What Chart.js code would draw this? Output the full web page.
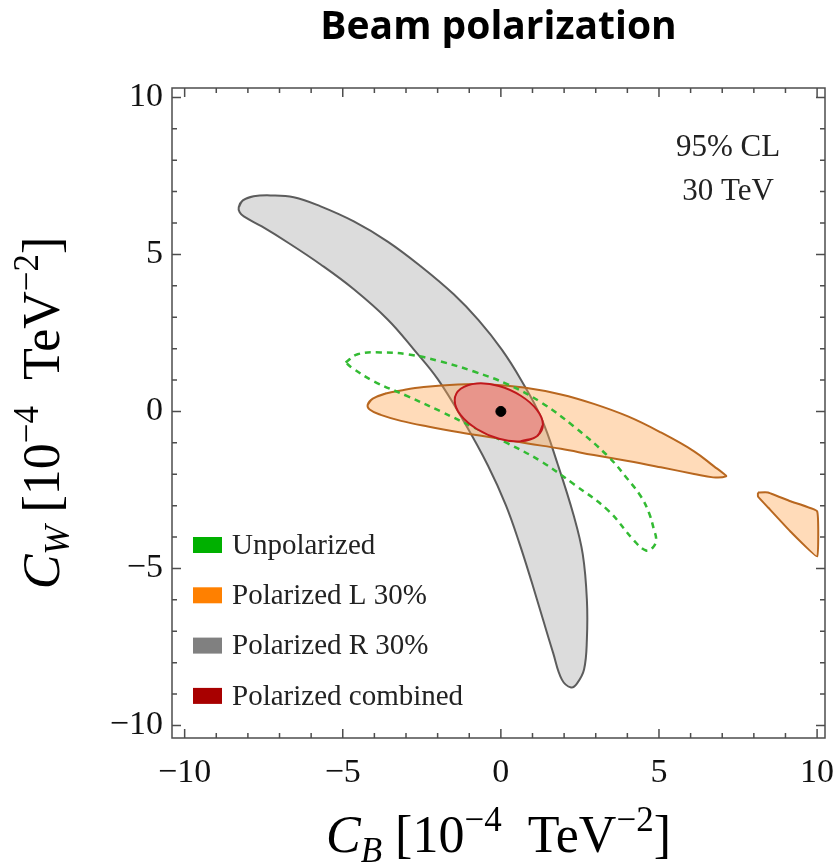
<!DOCTYPE html>
<html>
<head>
<meta charset="utf-8">
<script src="https://cdn.jsdelivr.net/npm/chart.js@4.4.0/dist/chart.umd.min.js"></script>
<style>
  html, body { margin: 0; padding: 0; background: #fff; }
  #wrap { width: 835px; height: 868px; }
</style>
</head>
<body>
<div id="wrap"><canvas id="beamChart"></canvas></div>
<script>
// axis ticks
const xTicks = [-10, -5, 0, 5, 10];
const yTicks = [-10, -5, 0, 5, 10];

// 95% CL contours, [C_B, C_W]
const polR = [
  [-8.29, 6.50], [-8.16, 6.72], [-7.82, 6.85], [-7.28, 6.88], [-6.55, 6.82], [-5.70, 6.53],
  [-4.65, 6.05], [-3.58, 5.41], [-2.53, 4.62], [-1.49, 3.73], [-0.70, 2.90], [0.03, 1.97],
  [0.63, 1.02], [1.27, -0.19], [1.80, -1.69], [2.31, -3.34], [2.59, -4.55], [2.72, -5.99],
  [2.72, -7.26], [2.63, -8.22], [2.41, -8.66], [2.22, -8.79], [1.93, -8.54], [1.65, -7.68],
  [1.33, -6.62], [0.98, -5.45], [0.60, -4.24], [0.16, -2.99], [-0.41, -1.72], [-1.17, -0.32],
  [-1.99, 1.02], [-2.75, 1.97], [-3.58, 2.93], [-4.65, 3.89], [-5.70, 4.68], [-6.74, 5.38],
  [-7.56, 5.89], [-8.13, 6.21], [-8.26, 6.34], [-8.29, 6.50], [-8.16, 6.72], [-7.82, 6.85]
];
const polL = [
  [-4.21, 0.22], [-4.05, 0.41], [-3.64, 0.57], [-3.16, 0.67], [-2.44, 0.78], [-1.36, 0.86],
  [-0.32, 0.86], [0.73, 0.76], [1.90, 0.54], [2.94, 0.24], [4.02, -0.16], [5.06, -0.67],
  [6.11, -1.27], [6.74, -1.75], [7.03, -1.97], [7.12, -2.07], [6.71, -2.10], [6.11, -1.99],
  [5.06, -1.78], [4.02, -1.58], [2.94, -1.39], [1.90, -1.19], [0.85, -1.02], [-0.22, -0.84],
  [-1.27, -0.67], [-2.31, -0.48], [-3.16, -0.30], [-3.80, -0.11], [-4.15, 0.06], [-4.21, 0.22],
  [-4.05, 0.41], [-3.64, 0.57]
];
const polLpiece = [
  [8.13, -2.58], [8.45, -2.58], [9.18, -2.87], [10.0, -3.18], [10.0, -4.62],
  [9.18, -3.85], [8.45, -3.06], [8.13, -2.71], [8.13, -2.58]
];
const unpol = [
  [-4.91, 1.56], [-4.53, 1.82], [-3.80, 1.88], [-2.94, 1.82], [-1.90, 1.59], [-0.85, 1.27],
  [0.22, 0.86], [1.27, 0.29], [2.31, -0.48], [3.39, -1.43], [4.02, -2.17], [4.43, -2.71],
  [4.68, -3.22], [4.84, -3.76], [4.91, -4.08], [4.81, -4.33], [4.59, -4.43], [4.21, -4.11],
  [3.39, -3.15], [2.31, -2.32], [1.27, -1.59], [0.22, -1.02], [-0.85, -0.51], [-1.90, 0.00],
  [-2.94, 0.48], [-4.02, 0.96], [-4.68, 1.37], [-4.91, 1.56]
];
const combined = [
  [1.33, -0.42], [1.14, -0.79], [0.63, -0.95], [-0.06, -0.87], [-0.76, -0.56], [-1.27, -0.12],
  [-1.46, 0.36], [-1.27, 0.72], [-0.76, 0.89], [-0.06, 0.81], [0.63, 0.50], [1.14, 0.05],
  [1.33, -0.42], [1.14, -0.79], [0.63, -0.95]
];
const smPoint = [[0, 0]];

const legendLabels = ['Unpolarized', 'Polarized L 30%', 'Polarized R 30%', 'Polarized combined'];
const legendColors = ['#00b000', '#ff8000', '#808080', '#a80000'];
const noteLines = ['95% CL', '30 TeV'];

const SERIF = '"Liberation Serif", "DejaVu Serif", serif';
const toXY = arr => arr.map(p => ({ x: p[0], y: p[1] }));
const minus = v => String(v).replace('-', '\u2212');

function richText(ctx, parts, x, y) {
  let w = 0;
  parts.forEach(p => { ctx.font = p.font; w += ctx.measureText(p.t).width; });
  let cx = x - w / 2;
  parts.forEach(p => {
    ctx.font = p.font;
    ctx.fillText(p.t, cx, y + (p.dy || 0));
    cx += ctx.measureText(p.t).width;
  });
}

function axisTitle(sub) {
  return [
    { t: 'C', font: 'italic 52px ' + SERIF },
    { t: sub, font: 'italic 35px ' + SERIF, dy: 10 },
    { t: ' [10', font: '52px ' + SERIF },
    { t: '\u22124', font: '35px ' + SERIF, dy: -21 },
    { t: '  TeV', font: '52px ' + SERIF },
    { t: '\u22122', font: '35px ' + SERIF, dy: -21 },
    { t: ']', font: '52px ' + SERIF }
  ];
}

const framePlugin = {
  id: 'frame',
  afterDraw(chart) {
    const { ctx, chartArea: a, scales: { x, y } } = chart;
    ctx.save();
    ctx.strokeStyle = '#4d4d4d';
    ctx.lineWidth = 1.5;
    ctx.strokeRect(a.left, a.top, a.right - a.left, a.bottom - a.top);
    ctx.beginPath();
    for (let v = -10; v <= 10; v++) {
      const len = v % 5 === 0 ? 9 : 5;
      const px = x.getPixelForValue(v);
      const py = y.getPixelForValue(v);
      ctx.moveTo(px, a.bottom); ctx.lineTo(px, a.bottom - len);
      ctx.moveTo(px, a.top); ctx.lineTo(px, a.top + len);
      ctx.moveTo(a.left, py); ctx.lineTo(a.left + len, py);
      ctx.moveTo(a.right, py); ctx.lineTo(a.right - len, py);
    }
    ctx.stroke();

    // note in the top right corner
    ctx.fillStyle = '#222';
    ctx.font = '31px ' + SERIF;
    ctx.textAlign = 'center';
    ctx.textBaseline = 'middle';
    noteLines.forEach((t, i) => ctx.fillText(t, a.right - 97, a.top + 60 + i * 44));

    // legend, lower left inside the frame
    ctx.textAlign = 'left';
    ctx.font = '29px ' + SERIF;
    legendLabels.forEach((t, i) => {
      const cy = a.bottom - 193 + i * 50.3;
      ctx.fillStyle = legendColors[i];
      ctx.fillRect(a.left + 21, cy - 8, 29, 16);
      ctx.fillStyle = '#222';
      ctx.fillText(t, a.left + 60, cy + 1);
    });

    // axis titles
    ctx.fillStyle = '#000';
    ctx.textBaseline = 'alphabetic';
    richText(ctx, axisTitle('B'), (a.left + a.right) / 2, 852);
    ctx.translate(59, (a.top + a.bottom) / 2);
    ctx.rotate(-Math.PI / 2);
    richText(ctx, axisTitle('W'), 0, 0);
    ctx.restore();
  }
};

const lineSet = (label, pts, opts) => Object.assign({
  label: label,
  data: toXY(pts),
  showLine: true,
  pointRadius: 0,
  borderWidth: 2,
  tension: 0.4,
  fill: 'shape'
}, opts);

new Chart(document.getElementById('beamChart'), {
  type: 'scatter',
  data: {
    datasets: [
      { label: 'SM', data: toXY(smPoint), pointRadius: 5, backgroundColor: '#000', borderColor: '#000', order: 0 },
      lineSet('Polarized combined', combined, { backgroundColor: '#e8958b', borderColor: '#c0181c', order: 1 }),
      lineSet('Unpolarized', unpol, { fill: false, borderColor: '#33bb33', borderWidth: 2.5, borderDash: [6, 5], order: 2 }),
      lineSet('Polarized L 30%', polL, { backgroundColor: 'rgba(255,165,80,0.4)', borderColor: '#b8671f', order: 3 }),
      lineSet('Polarized L 30% (b)', polLpiece, { backgroundColor: 'rgba(255,165,80,0.4)', borderColor: '#b8671f', tension: 0.1, order: 3 }),
      lineSet('Polarized R 30%', polR, { backgroundColor: '#dcdcdc', borderColor: '#5c5c5c', order: 4 })
    ]
  },
  options: {
    responsive: true,
    maintainAspectRatio: false,
    animation: false,
    layout: { padding: { left: 0, right: 10, top: 0, bottom: 0 } },
    plugins: {
      legend: { display: false },
      tooltip: { enabled: false },
      title: {
        display: true,
        fullSize: false,
        text: 'Beam polarization',
        color: '#000',
        font: { family: '"Open Sans", Lato, sans-serif', size: 39, weight: 'bold', lineHeight: 1.2 },
        padding: { top: 4, bottom: 37.2 }
      }
    },
    scales: {
      x: {
        type: 'linear',
        min: -10.4,
        max: 10.25,
        afterBuildTicks: s => { s.ticks = xTicks.map(v => ({ value: v })); },
        afterFit: s => { s.height = 130; s.paddingLeft = 0; s.paddingRight = 0; },
        grid: { display: false, drawTicks: false },
        border: { display: false },
        ticks: { color: '#111', padding: 15, font: { family: SERIF, size: 34 }, callback: v => minus(v), maxRotation: 0 }
      },
      y: {
        type: 'linear',
        min: -10.4,
        max: 10.3,
        afterBuildTicks: s => { s.ticks = yTicks.map(v => ({ value: v })); },
        afterFit: s => { s.width = 172; s.paddingTop = 0; s.paddingBottom = 0; },
        grid: { display: false, drawTicks: false },
        border: { display: false },
        ticks: { color: '#111', padding: 9, font: { family: SERIF, size: 34 }, callback: v => minus(v) }
      }
    }
  },
  plugins: [framePlugin]
});
</script>
</body>
</html>
